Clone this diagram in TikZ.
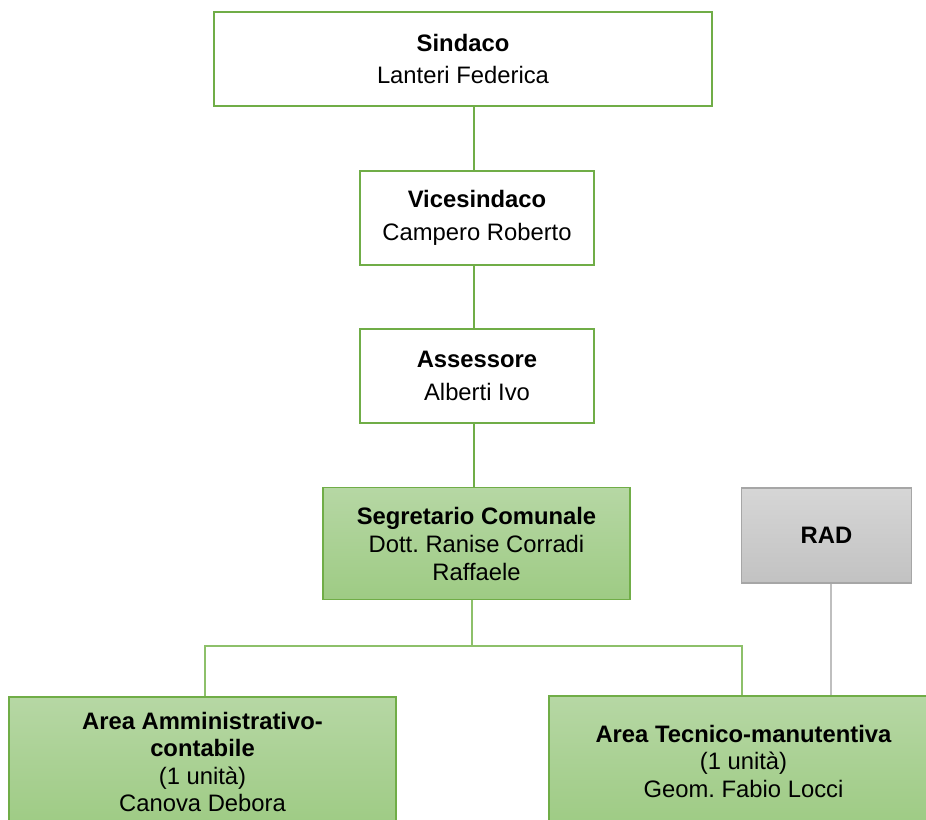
\documentclass[tikz,border=0pt]{standalone}
\usepackage{fontspec}
\setmainfont{Liberation Sans}
\frenchspacing
\definecolor{ogreen}{RGB}{112,173,71}
\definecolor{lgreen}{RGB}{141,192,106}
\definecolor{gtop}{RGB}{182,215,164}
\definecolor{gbot}{RGB}{158,203,132}
\definecolor{graytop}{RGB}{214,214,214}
\definecolor{graybot}{RGB}{194,194,194}
\definecolor{grayline}{RGB}{166,166,166}
\definecolor{grayconn}{RGB}{191,191,191}
\tikzset{
  whitebox/.style={draw=ogreen, line width=2.5pt, fill=white, align=center,
    inner sep=0pt, font=\fontsize{23.8}{27.5}\selectfont\frenchspacing},
  greenbox/.style={draw=ogreen, line width=1.6pt, top color=gtop, bottom color=gbot,
    align=center, inner sep=0pt, font=\fontsize{23.8}{27.5}\selectfont\frenchspacing},
  graybox/.style={draw=grayline, line width=1.6pt, top color=graytop, bottom color=graybot,
    align=center, inner sep=0pt, font=\fontsize{23.8}{27.5}\selectfont},
  upconn/.style={draw=ogreen, line width=2.5pt},
  lowconn/.style={draw=lgreen, line width=1.4pt},
  radconn/.style={draw=grayconn, line width=1.6pt}
}
\begin{document}
\begin{tikzpicture}[x=1pt,y=-1pt]
\useasboundingbox[fill=white] (0,0) rectangle (926,819);
\node[whitebox, minimum width=498pt, minimum height=94pt] (sind) at (463,59)
  {\textbf{Sindaco}\\[4pt]Lanteri Federica};
\node[whitebox, minimum width=234pt, minimum height=94pt] (vice) at (477,218)
  {\textbf{Vicesindaco}\\[6pt]Campero Roberto};
\node[whitebox, minimum width=234pt, minimum height=94pt] (ass) at (477,376)
  {\textbf{Assessore}\\[5pt]Alberti Ivo};
\node[greenbox, minimum width=307pt, minimum height=112pt] (seg) at (476.5,543.5)
  {\textbf{Segretario Comunale}\\[1pt]Dott. Ranise Corradi\\Raffaele};
\node[graybox, minimum width=170pt, minimum height=95pt] (rad) at (826.5,535.5)
  {\textbf{RAD}};
\node[greenbox, minimum width=387pt, minimum height=130pt] (amm) at (202.5,762)
  {\textbf{Area Amministrativo-}\\\textbf{contabile}\\(1 unità)\\Canova Debora};
\node[greenbox, minimum width=389pt, minimum height=130pt, text depth=0pt] (tec) at (743.5,761)
  {\textbf{Area Tecnico-manutentiva}\\(1 unità)\\Geom. Fabio Locci};
\coordinate (spine) at (474,0);
\coordinate (lowx) at (472,646);
\coordinate (busL) at (205,646);
\coordinate (busR) at (742,646);
\coordinate (radx) at (831,0);
\draw[upconn] (sind.south -| spine) -- (vice.north -| spine);
\draw[upconn] (vice.south -| spine) -- (ass.north -| spine);
\draw[upconn] (ass.south -| spine) -- (seg.north -| spine);
\draw[lowconn] (seg.south -| lowx) -- (lowx);
\draw[lowconn] (busL |- amm.north) -- (busL) -- (busR) -- (busR |- tec.north);
\draw[radconn] (rad.south -| radx) -- (tec.north -| radx);
\end{tikzpicture}
\end{document}
